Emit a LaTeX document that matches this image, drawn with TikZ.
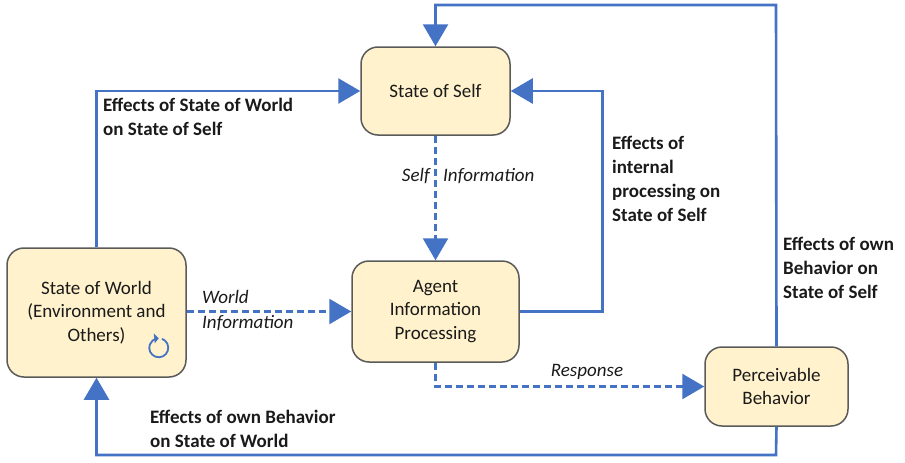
\documentclass[tikz,border=0pt]{standalone}
\usepackage{fontspec}
\setmainfont{Carlito}
\usetikzlibrary{%
    arrows.meta,
    calc,
    positioning
}
\definecolor{flowblue}{HTML}{4472C4}
\definecolor{boxfill}{HTML}{FFF2CC}
\definecolor{boxline}{HTML}{5A5A5A}
\definecolor{textdark}{HTML}{1A1A1A}
\tikzset{headarrow/.style = {-{Triangle[length=22pt,width=25pt]}}}
\tikzset{flow/.style = {flowblue,line width=2.6pt,headarrow}}
\tikzset{info/.style = {flow,dash pattern=on 7pt off 4pt}}
\tikzset{box/.style = {draw=boxline,fill=boxfill,line width=1.5pt,rounded corners=17pt,
    align=center,text=textdark,font=\fontsize{19}{23.5}\selectfont,inner sep=0pt}}
\tikzset{effect/.style = {anchor=west,align=left,text=textdark,inner sep=0pt,
    font=\fontsize{19}{24}\selectfont\bfseries}}
\tikzset{infolabel/.style = {text=textdark,inner sep=0pt,font=\fontsize{19}{23}\selectfont\itshape}}

\begin{document}
\begin{tikzpicture}[x=1pt,y=-1pt]
    \useasboundingbox (0,0) rectangle (905,463);

    \node (self) [box,minimum width=149pt,minimum height=88pt] at (435.5,91) {State of Self};
    \node (world) [box,minimum width=179pt,minimum height=129pt] at (96.5,312.5)
        {State of World\\(Environment and\\Others)};
    \node (agent) [box,minimum width=167pt,minimum height=101pt] at (435.5,311.5)
        {Agent\\Information\\Processing};
    \node (behav) [box,minimum width=143pt,minimum height=79pt] at (776.5,386.5)
        {Perceivable\\Behavior};

    \coordinate (topright) at (776,5);
    \coordinate (bottomright) at (776,455);
    \coordinate (loopcenter) at ($(world.south east)+(-28,-30)$);

    \draw[flow] (world.north) |- (self.west);
    \draw[flow] (behav.north) -- (topright) -| (self.north);
    \draw[flow] (agent.east) -- ++(83,0) |- (self.east);
    \draw[flow] (behav.south) -- (bottomright) -| (world.south);
    \draw[info] (self.south) -- (agent.north);
    \draw[info] (world.east |- agent.west) -- (agent.west);
    \draw[info] (agent.south) |- (behav.west);

    \draw[flowblue,line width=1.8pt] ($(loopcenter)+(70:9.5pt)$) arc[start angle=70,end angle=-260,radius=9.5pt];
    \fill[flowblue] ($(loopcenter)+(90:9.5pt)$) -- ++(-5,-5) -- ++(1,10) -- cycle;

    \node (selfinfo) [infolabel,anchor=east] at (430,176) {Self};
    \node (selfinfo2) [infolabel,anchor=west] at (443,176) {Information};
    \node (worldinfo) [infolabel,anchor=west] at (202,297) {World};
    \node (worldinfo2) [infolabel,anchor=west] at (202,323) {Information};
    \node (response) [infolabel] at (587,372) {Response};

    \node (effworld) [effect] at (103,117) {Effects of State of World\\on State of Self};
    \node (effinternal) [effect] at (612,178.5) {Effects of\\internal\\processing on\\State of Self};
    \node (effself) [effect] at (783,268) {Effects of own\\Behavior on\\State of Self};
    \node (effbehav) [effect] at (150,428.5) {Effects of own Behavior\\on State of World};
\end{tikzpicture}
\end{document}
